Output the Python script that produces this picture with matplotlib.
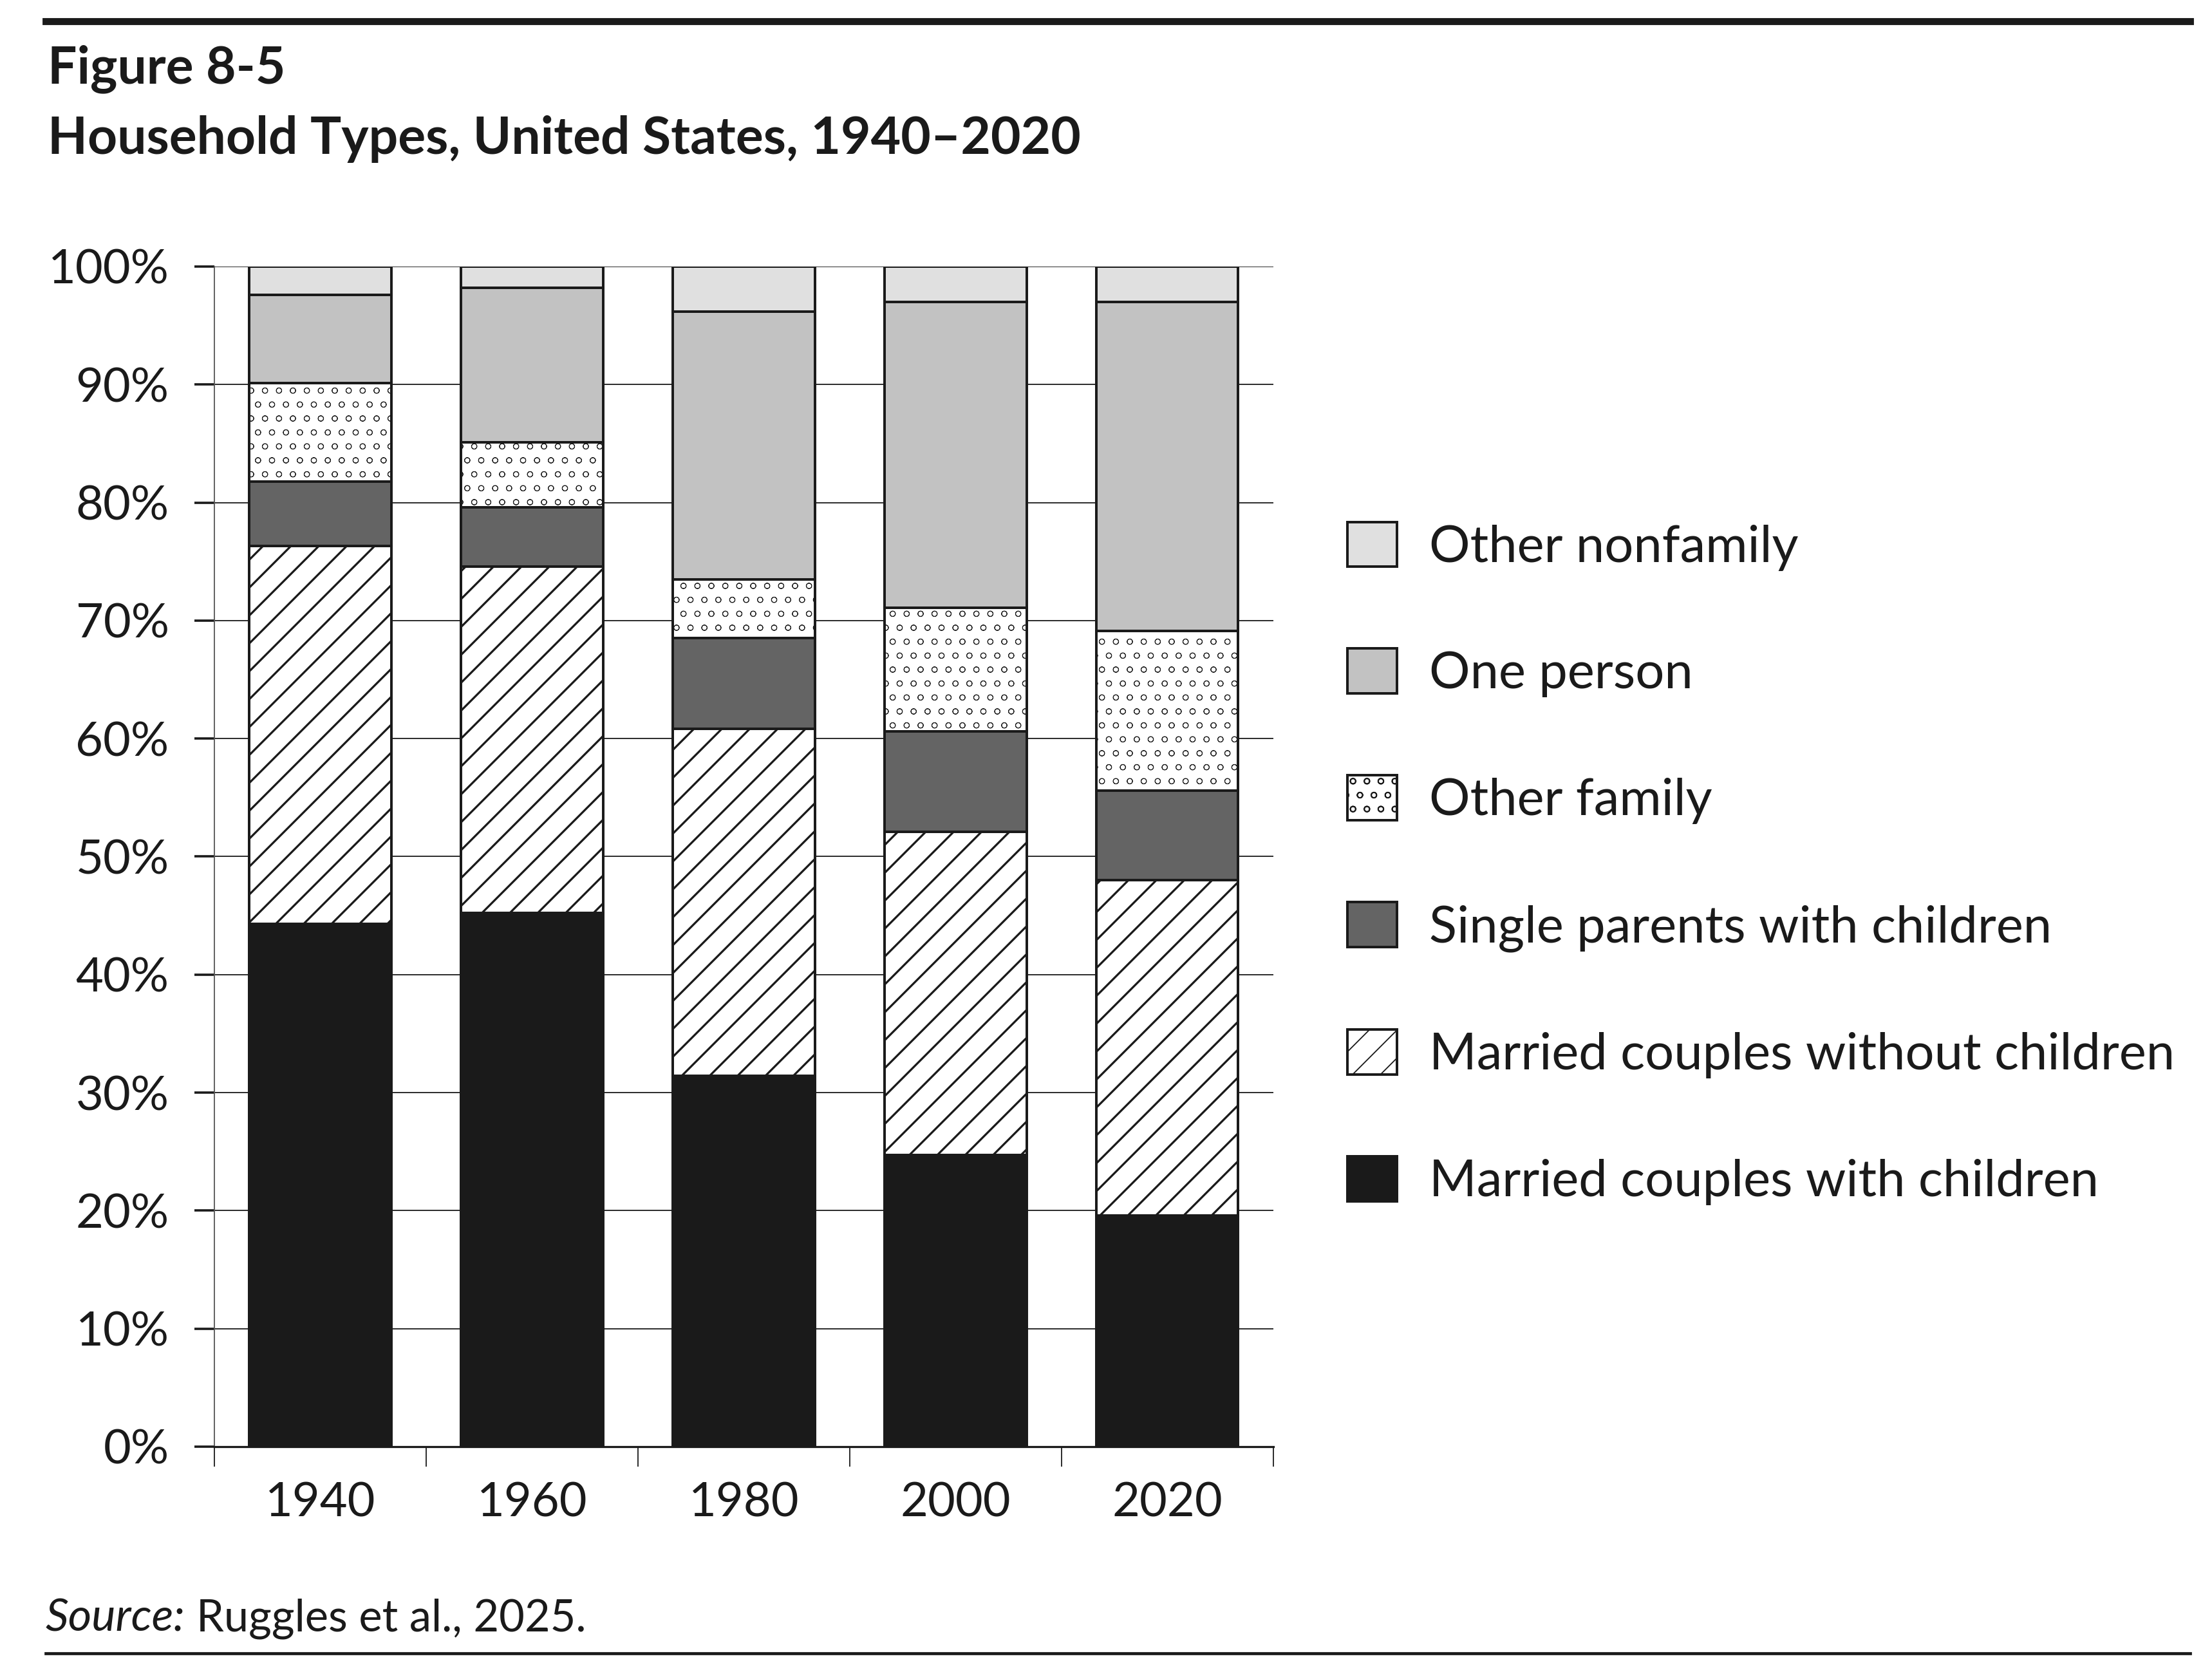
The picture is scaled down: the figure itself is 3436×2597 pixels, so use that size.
import matplotlib
matplotlib.use("Agg")
import matplotlib.pyplot as plt
import numpy as np

years = ["1940", "1960", "1980", "2000", "2020"]
series_names = [
    "Married couples with children",
    "Married couples without children",
    "Single parents with children",
    "Other family",
    "One person",
    "Other nonfamily",
]
married_with = [44.3, 45.2, 31.4, 24.7, 19.6]
married_without = [32.0, 29.4, 29.4, 27.4, 28.4]
single_parents = [5.5, 5.0, 7.7, 8.5, 7.6]
other_family = [8.3, 5.5, 5.0, 10.5, 13.5]
one_person = [7.5, 13.1, 22.7, 25.9, 27.9]
other_nonfamily = [2.4, 1.8, 3.8, 3.0, 3.0]

series_values = [married_with, married_without, single_parents,
                 other_family, one_person, other_nonfamily]
fills = ["#1a1a1a", "white", "#646464", "white", "#c2c2c2", "#e0e0e0"]
hatches = [None, "/", None, "o", None, None]
hatch_widths = [1.0, 1.8, 1.0, 0.5, 1.0, 1.0]

plt.rcParams['font.family'] = ['Lato', 'DejaVu Sans']
FS = 41
ink = "#1a1a1a"

fig = plt.figure(figsize=(3436 / 130, 2597 / 130), dpi=130, facecolor='white')
ax = fig.add_axes([0.0969, 0.1348, 0.5756 - 0.0969, 0.8406 - 0.1348])

x = np.arange(len(years))
bottom = np.zeros(len(years))
handles = []
for vals, name, fc, h, hw in zip(series_values, series_names, fills, hatches, hatch_widths):
    with plt.rc_context({'hatch.linewidth': hw, 'hatch.color': ink}):
        bars = ax.bar(x, vals, width=0.67, bottom=bottom, color=fc,
                      edgecolor=ink, linewidth=2.2, hatch=h, label=name, zorder=3)
    handles.append(bars)
    bottom = bottom + np.array(vals)

ax.set_xlim(-0.5, 4.5)
ax.set_ylim(0, 100)
ax.set_yticks(np.arange(0, 101, 10))
ax.set_yticklabels([f"{v}%" for v in range(0, 101, 10)], fontsize=FS, color=ink)
ax.set_xticks(x)
ax.set_xticklabels(years, fontsize=FS, color=ink)
ax.set_xticks(np.arange(-0.5, 4.6, 1.0), minor=True)

ax.yaxis.grid(True, color=ink, linewidth=1.0)
ax.set_axisbelow(True)
ax.tick_params(axis='y', which='major', direction='out', length=17, width=2.0,
               color=ink, pad=22)
ax.tick_params(axis='x', which='major', length=0, pad=30)
ax.tick_params(axis='x', which='minor', direction='out', length=17, width=1.0, color=ink)

for s in ['top', 'right']:
    ax.spines[s].set_visible(False)
ax.spines['left'].set_color('#555555')
ax.spines['left'].set_linewidth(1.0)
ax.spines['bottom'].set_color(ink)
ax.spines['bottom'].set_linewidth(1.8)

leg = fig.legend(handles[::-1], series_names[::-1], loc='center left',
                 bbox_to_anchor=(0.609, 0.4835), frameon=False, fontsize=44,
                 handlelength=0.97, handleheight=0.97, handletextpad=0.63,
                 labelspacing=1.52, borderpad=0, borderaxespad=0)
for t in leg.get_texts():
    t.set_color(ink)

fig.add_artist(plt.Line2D([0.0207, 0.990], [0.9873, 0.9873], color=ink,
                          linewidth=6.0, transform=fig.transFigure))
fig.add_artist(plt.Line2D([0.0207, 0.990], [0.011, 0.011], color=ink,
                          linewidth=2.6, transform=fig.transFigure))

fig.text(0.0215, 0.950, "Figure 8-5", fontsize=44.5, fontweight='bold', color=ink, va='baseline')
fig.text(0.0215, 0.908, "Household Types, United States, 1940\u20132020", fontsize=44.5,
         fontweight='bold', color=ink, va='baseline')

src = fig.text(0.0205, 0.0246, "Source:", fontsize=39, fontstyle='italic', color=ink,
               va='baseline')
renderer = fig.canvas.get_renderer()
bb = src.get_window_extent(renderer=renderer)
fig.text((bb.x1 + 18) / fig.bbox.width, 0.0246, "Ruggles et al., 2025.", fontsize=38,
         color=ink, va='baseline')

fig.savefig("out.png", dpi=130, facecolor='white')
